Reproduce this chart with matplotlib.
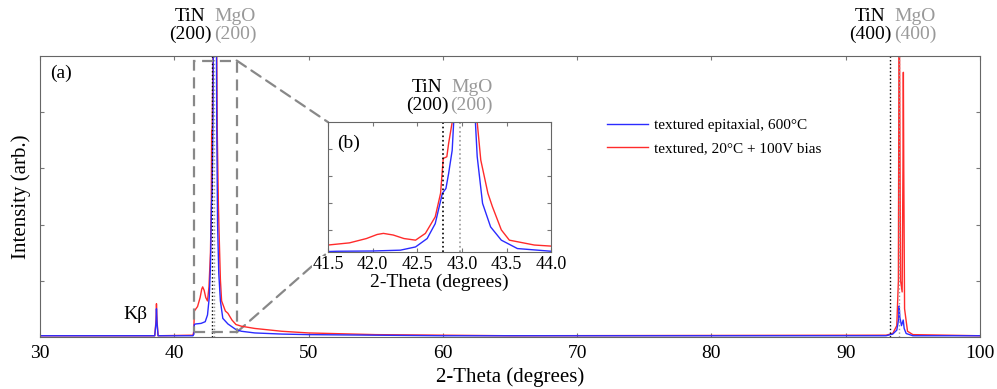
import matplotlib
matplotlib.use("Agg")
import matplotlib.pyplot as plt
from matplotlib.patches import Rectangle, ConnectionPatch

plt.rcParams['font.family'] = ['Liberation Serif', 'DejaVu Serif']

# 2-theta (degrees) and intensity (arb.)
theta_blue = [30.0, 38.55, 38.65, 38.68, 38.72, 38.8, 41.40, 41.47, 41.50, 41.6, 42.0, 42.31,
              42.48, 42.61, 42.70, 42.78, 42.82, 42.85, 42.89, 42.91, 42.95, 43.05, 43.13,
              43.15, 43.17, 43.23, 43.32, 43.44, 43.62, 44.0, 44.6, 45.0, 46.0, 48.0, 50.0,
              55.0, 60.0, 93.0, 93.5, 93.8, 93.93, 93.98, 94.03, 94.15, 94.28, 94.35, 94.5,
              95.0, 100.0]
int_blue = [0.02, 0.02, 0.25, 0.5, 0.25, 0.02, 0.02, 0.05, 0.22, 0.23, 0.24, 0.27,
            0.39, 0.70, 1.25, 2.37, 2.55, 3.1, 3.96, 5.2, 12.0, 14.0, 6.0,
            5.0, 3.73, 2.0, 1.13, 0.64, 0.33, 0.23, 0.13, 0.10, 0.07, 0.05, 0.04,
            0.03, 0.02, 0.02, 0.05, 0.12, 0.3, 0.55, 0.35, 0.2, 0.3, 0.15, 0.06,
            0.02, 0.02]

theta_red = [30.0, 38.55, 38.65, 38.68, 38.72, 38.8, 41.40, 41.46, 41.50, 41.74, 41.93, 42.05,
             42.12, 42.23, 42.35, 42.48, 42.59, 42.70, 42.76, 42.79, 42.83, 42.85, 42.89,
             42.92, 43.0, 43.1, 43.17, 43.21, 43.29, 43.34, 43.44, 43.53, 43.81, 44.0, 44.3,
             44.6, 45.0, 46.0, 48.0, 50.0, 55.0, 60.0, 65.0, 93.0, 93.5, 93.8, 93.92, 93.96,
             93.98, 94.01, 94.08, 94.2, 94.26, 94.29, 94.32, 94.38, 94.6, 95.0, 100.0]
int_red = [0.02, 0.02, 0.3, 0.59, 0.3, 0.02, 0.03, 0.1, 0.46, 0.54, 0.70, 0.85,
           0.89, 0.83, 0.70, 0.64, 0.89, 1.50, 2.37, 3.66, 3.72, 4.21, 5.0,
           9.0, 15.0, 9.0, 5.0, 3.6, 2.37, 1.88, 1.02, 0.64, 0.46, 0.42, 0.3,
           0.22, 0.19, 0.15, 0.10, 0.07, 0.04, 0.03, 0.02, 0.03, 0.06, 0.2, 1.0, 5.0,
           15.0, 5.0, 1.0, 0.8, 3.0, 4.71, 3.0, 0.5, 0.1, 0.04, 0.02]

labels = ['textured epitaxial, 600°C', 'textured, 20°C + 100V bias']
colors = ['#2b2bff', '#ff2b2b']

# reference reflections
tin_pos = [42.79, 93.29]
mgo_pos = [42.98, 94.0]
tin_names = ['TiN\n(200)', 'TiN\n(400)']
mgo_names = ['MgO\n(200)', 'MgO\n(400)']
tin_label_x = [41.17, 91.8]
mgo_label_x = [44.52, 95.15]

GRAY = '#999999'

fig = plt.figure(figsize=(9.97, 3.89), dpi=100)
ax = fig.add_axes([0.040, 0.134, 0.943, 0.722])

ax.plot(theta_red, int_red, color=colors[1], lw=1.0, label=labels[1])
ax.plot(theta_blue, int_blue, color=colors[0], lw=1.0, label=labels[0])
for p in tin_pos:
    ax.axvline(p, color='black', ls=':', lw=1.0)
for p in mgo_pos:
    ax.axvline(p, color=GRAY, ls=':', lw=1.0)

ax.set_xlim(30, 100)
ax.set_ylim(0, 5)
ax.set_xticks(range(30, 101, 10))
ax.set_yticks([1, 2, 3, 4])
ax.set_yticklabels([])
ax.tick_params(direction='in', top=True, right=True, length=3, color='#777777', labelsize=14)
ax.tick_params(axis='x', pad=6)
for s in ax.spines.values():
    s.set_color('#666666')
ax.set_xlabel('2-Theta (degrees)', fontsize=15, labelpad=4)
ax.set_ylabel('Intensity (arb.)', fontsize=15, labelpad=3)

trans = ax.get_xaxis_transform()
for x, t in zip(tin_label_x, tin_names):
    ax.text(x, 1.045, t, transform=trans, ha='center', va='bottom', fontsize=14,
            color='black', linespacing=1.05, multialignment='center')
for x, t in zip(mgo_label_x, mgo_names):
    ax.text(x, 1.045, t, transform=trans, ha='center', va='bottom', fontsize=14,
            color=GRAY, linespacing=1.05, multialignment='center')

ax.text(0.011, 0.94, '(a)', transform=ax.transAxes, fontsize=14, va='center', ha='left')
ax.text(37.1, 0.39, 'Kβ', fontsize=14, va='center', ha='center')

h = ax.get_legend_handles_labels()[0]
ax.legend([h[1], h[0]], [labels[0], labels[1]], loc='upper left',
          bbox_to_anchor=(0.603, 0.777), frameon=False, fontsize=11,
          handlelength=2.7, handletextpad=0.4, labelspacing=0.6,
          borderpad=0, borderaxespad=0)

# zoom box
x0, x1, y0, y1 = 41.5, 44.65, 0.08, 4.92
ax.add_patch(Rectangle((x0, y0), x1 - x0, y1 - y0, fill=False, ls=(0, (5, 3)),
                       ec='#888888', lw=1.6, zorder=3))

# inset
axi = fig.add_axes([0.329, 0.352, 0.224, 0.334])
axi.plot(theta_red, int_red, color=colors[1], lw=1.0)
axi.plot(theta_blue, int_blue, color=colors[0], lw=1.0)
axi.axvline(tin_pos[0], color='black', ls=':', lw=1.2)
axi.axvline(mgo_pos[0], color=GRAY, ls=':', lw=1.2)
axi.set_xlim(41.5, 44.0)
axi.set_ylim(0.2, 5.0)
axi.set_xticks([41.5, 42.0, 42.5, 43.0, 43.5, 44.0])
axi.set_xticklabels(['41.5', '42.0', '42.5', '43.0', '43.5', '44.0'])
axi.set_yticks([1, 2, 3, 4])
axi.set_yticklabels([])
axi.tick_params(direction='in', top=True, right=True, length=3, color='#777777',
                labelsize=13, pad=3)
for lab in axi.get_xticklabels():
    lab.set_bbox(dict(facecolor='white', edgecolor='none', pad=0.5))
for s in axi.spines.values():
    s.set_color('#666666')
axi.set_xlabel('2-Theta (degrees)', fontsize=14, labelpad=0)
axi.text(0.04, 0.84, '(b)', transform=axi.transAxes, fontsize=14, va='center', ha='left')
ti = axi.get_xaxis_transform()
axi.text(42.61, 1.06, tin_names[0], transform=ti, ha='center', va='bottom', fontsize=14,
         color='black', linespacing=1.05, multialignment='center')
axi.text(43.11, 1.06, mgo_names[0], transform=ti, ha='center', va='bottom', fontsize=14,
         color=GRAY, linespacing=1.05, multialignment='center')

for (xa, ya), (xb, yb) in [((x1, y1), (0, 1)), ((x1, y0), (0, 0))]:
    con = ConnectionPatch(xyA=(xa, ya), coordsA=ax.transData, xyB=(xb, yb),
                          coordsB=axi.transAxes, color='#888888', ls=(0, (5, 3)), lw=1.6)
    ax.add_artist(con)

plt.savefig('out.png', dpi=100)
